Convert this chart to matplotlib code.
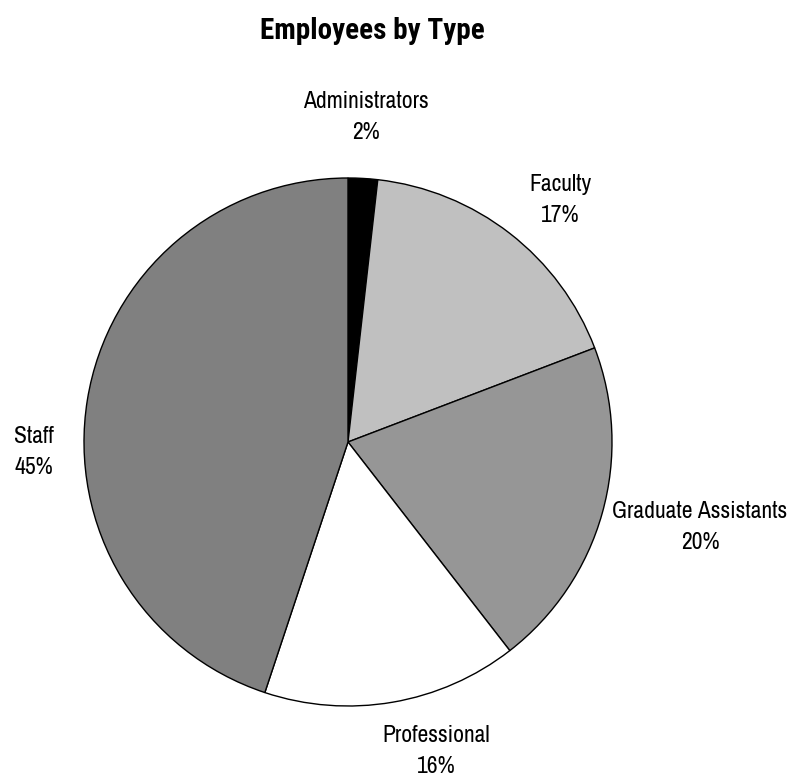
import numpy as np
import matplotlib
matplotlib.use("Agg")
import matplotlib.pyplot as plt

categories = ["Administrators", "Faculty", "Graduate Assistants", "Professional", "Staff"]
values = [1.8, 17.4, 20.3, 15.6, 44.9]
colors = ["#000000", "#C0C0C0", "#969696", "#FFFFFF", "#808080"]
label_dist = [1.233, 1.219, 1.372, 1.217, 1.190]
label_shift = [0.0, -3.4, 2.06, 6.2, 11.0]   # degrees (counter-clockwise) from wedge mid-angle

plt.rcParams["font.family"] = ["Archivo Narrow", "DejaVu Sans"]

W, H = 791, 781
fig = plt.figure(figsize=(W / 100, H / 100), dpi=100)
cx, cy, R = 348, 442, 264
ax = fig.add_axes([(cx - R) / W, (H - cy - R) / H, 2 * R / W, 2 * R / H])

wedges, _ = ax.pie(values, colors=colors, startangle=90, counterclock=False,
                   radius=1, wedgeprops=dict(edgecolor="black", linewidth=1.0))
ax.set_xlim(-1, 1)
ax.set_ylim(-1, 1)
ax.axis("off")
total = sum(values)
for w, name, v, d, s in zip(wedges, categories, values, label_dist, label_shift):
    ang = np.deg2rad((w.theta1 + w.theta2) / 2 + s)
    x, y = d * np.cos(ang), d * np.sin(ang)
    ax.text(x, y, f"{name}\n{round(v / total * 100):.0f}%", ha="center", va="center",
            fontsize=17, linespacing=1.6, clip_on=False)

fig.text(372 / W, 1 - 31 / H, "Employees by Type", ha="center", va="center",
         fontsize=21, fontweight="bold", family=["Roboto Condensed", "DejaVu Sans"])

fig.savefig("out.png", dpi=100)
